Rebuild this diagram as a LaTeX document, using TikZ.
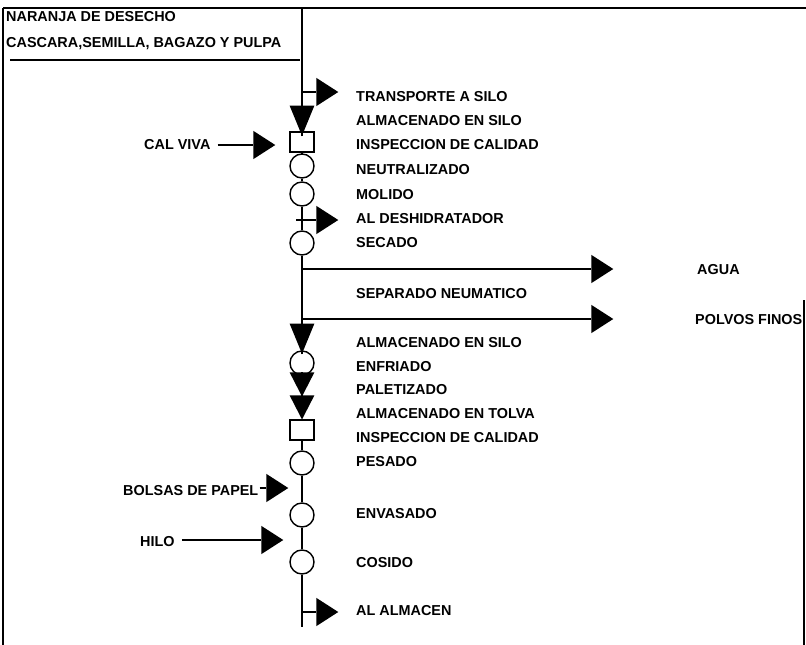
\documentclass[tikz,border=0pt]{standalone}
\usepackage{fontspec}
\setmainfont{Liberation Sans}
\usetikzlibrary{shapes.geometric, positioning}

\begin{document}
\begin{tikzpicture}[
    x=0.03cm, y=-0.03cm,
    lbl/.style={anchor=west, inner sep=0pt, font=\bfseries\fontsize{12.3}{14}\selectfont},
    oper/.style={circle, draw=black, line width=1.2pt, fill=white, minimum size=0.72cm, inner sep=0pt},
    insp/.style={rectangle, draw=black, line width=1.2pt, fill=white, minimum width=0.72cm, minimum height=0.6cm, inner sep=0pt},
    store/.style={isosceles triangle, isosceles triangle stretches, rotate=-90, fill=black, minimum width=0.74cm, minimum height=0.9cm, inner sep=0pt},
    tip/.style={isosceles triangle, isosceles triangle stretches, fill=black, minimum width=0.85cm, minimum height=0.66cm, inner sep=0pt},
    flow/.style={line width=1.3pt},
    feed/.style={line width=1pt}
]
\useasboundingbox (0,0) rectangle (806,645);

% Frame
\draw[line width=1.6pt] (3,8) -- (806,8);
\draw[line width=1.2pt] (3,8) -- (3,645);
\draw[line width=1.2pt] (804,300) -- (804,645);
\draw[feed] (10,60) -- (300,60);

% Header
\node[lbl] (naranja) at (6,17) {NARANJA DE DESECHO};
\node[lbl] (cascara) at (6,44) {CASCARA,SEMILLA, BAGAZO Y PULPA};

% Symbols
\coordinate (top) at (302,8);
\coordinate (tr1) at (302,92);
\node[tip] (tr1tip) at (324,92) {};
\node[store] (alm1) at (302,114) {};
\node[insp] (insp1) at (302,142) {};
\node[oper] (neu) at (302,166) {};
\node[oper] (mol) at (302,194) {};
\coordinate (tr2) at (302,220);
\node[tip] (tr2tip) at (324,220) {};
\node[oper] (sec) at (302,243) {};
\coordinate (sep1) at (302,269);
\node[tip] (aguatip) at (599,269) {};
\coordinate (sep2) at (302,319);
\node[tip] (polvtip) at (599,319) {};
\node[store] (alm2) at (302,332) {};
\node[oper] (enf) at (302,363) {};
\node[store, minimum height=0.72cm] (pal) at (302,380) {};
\node[store, minimum height=0.72cm] (alm3) at (302,403) {};
\node[insp] (insp2) at (302,430) {};
\node[oper] (pes) at (302,463) {};
\node[oper] (env) at (302,515) {};
\node[oper] (cos) at (302,562) {};
\coordinate (tr3) at (302,612);
\node[tip] (tr3tip) at (324,612) {};
\coordinate (fin) at (302,627);

% Inputs
\node[lbl] (cal) at (144,145) {CAL VIVA};
\node[tip] (caltip) at (261,145) {};
\node[lbl] (bolsas) at (123,491) {BOLSAS DE PAPEL};
\node[tip] (bolsatip) at (274,488) {};
\node[lbl] (hilo) at (140,542) {HILO};
\node[tip] (hilotip) at (269,540) {};

% Outputs
\node[lbl] (agua) at (697,270) {AGUA};
\node[lbl] (polvos) at (695,320) {POLVOS FINOS};

% Steps
\node[lbl] (t1) at (356,97) {TRANSPORTE A SILO};
\node[lbl] (t2) at (356,121) {ALMACENADO EN SILO};
\node[lbl] (t3) at (356,145) {INSPECCION DE CALIDAD};
\node[lbl] (t4) at (356,170) {NEUTRALIZADO};
\node[lbl] (t5) at (356,195) {MOLIDO};
\node[lbl] (t6) at (356,219) {AL DESHIDRATADOR};
\node[lbl] (t7) at (356,243) {SECADO};
\node[lbl] (t8) at (356,294) {SEPARADO NEUMATICO};
\node[lbl] (t9) at (356,343) {ALMACENADO EN SILO};
\node[lbl] (t10) at (356,367) {ENFRIADO};
\node[lbl] (t11) at (356,390) {PALETIZADO};
\node[lbl] (t12) at (356,414) {ALMACENADO EN TOLVA};
\node[lbl] (t13) at (356,438) {INSPECCION DE CALIDAD};
\node[lbl] (t14) at (356,462) {PESADO};
\node[lbl] (t15) at (356,514) {ENVASADO};
\node[lbl] (t16) at (356,563) {COSIDO};
\node[lbl] (t17) at (356,611) {AL ALMACEN};

% Connections
\draw[flow] (top) -- (tr1) -- (alm1) -- (insp1) -- (neu) -- (mol) -- (tr2) -- (sec) -- (sep1) -- (sep2) -- (alm2) -- (enf) -- (pal) -- (alm3) -- (insp2) -- (pes) -- (env) -- (cos) -- (tr3) -- (fin);
\draw[flow] (tr1) -- (tr1tip);
\draw[flow] ([xshift=-5pt]tr2) -- (tr2tip);
\draw[flow] (tr3) -- (tr3tip);
\draw[feed] (sep1) -- (aguatip);
\draw[feed] (sep2) -- (polvtip);
\draw[feed, shorten <=6pt] (cal) -- (caltip);
\draw[feed, shorten <=1pt] (bolsas.east |- bolsatip) -- (bolsatip);
\draw[feed, shorten <=6pt] (hilo.east |- hilotip) -- (hilotip);
\end{tikzpicture}
\end{document}
